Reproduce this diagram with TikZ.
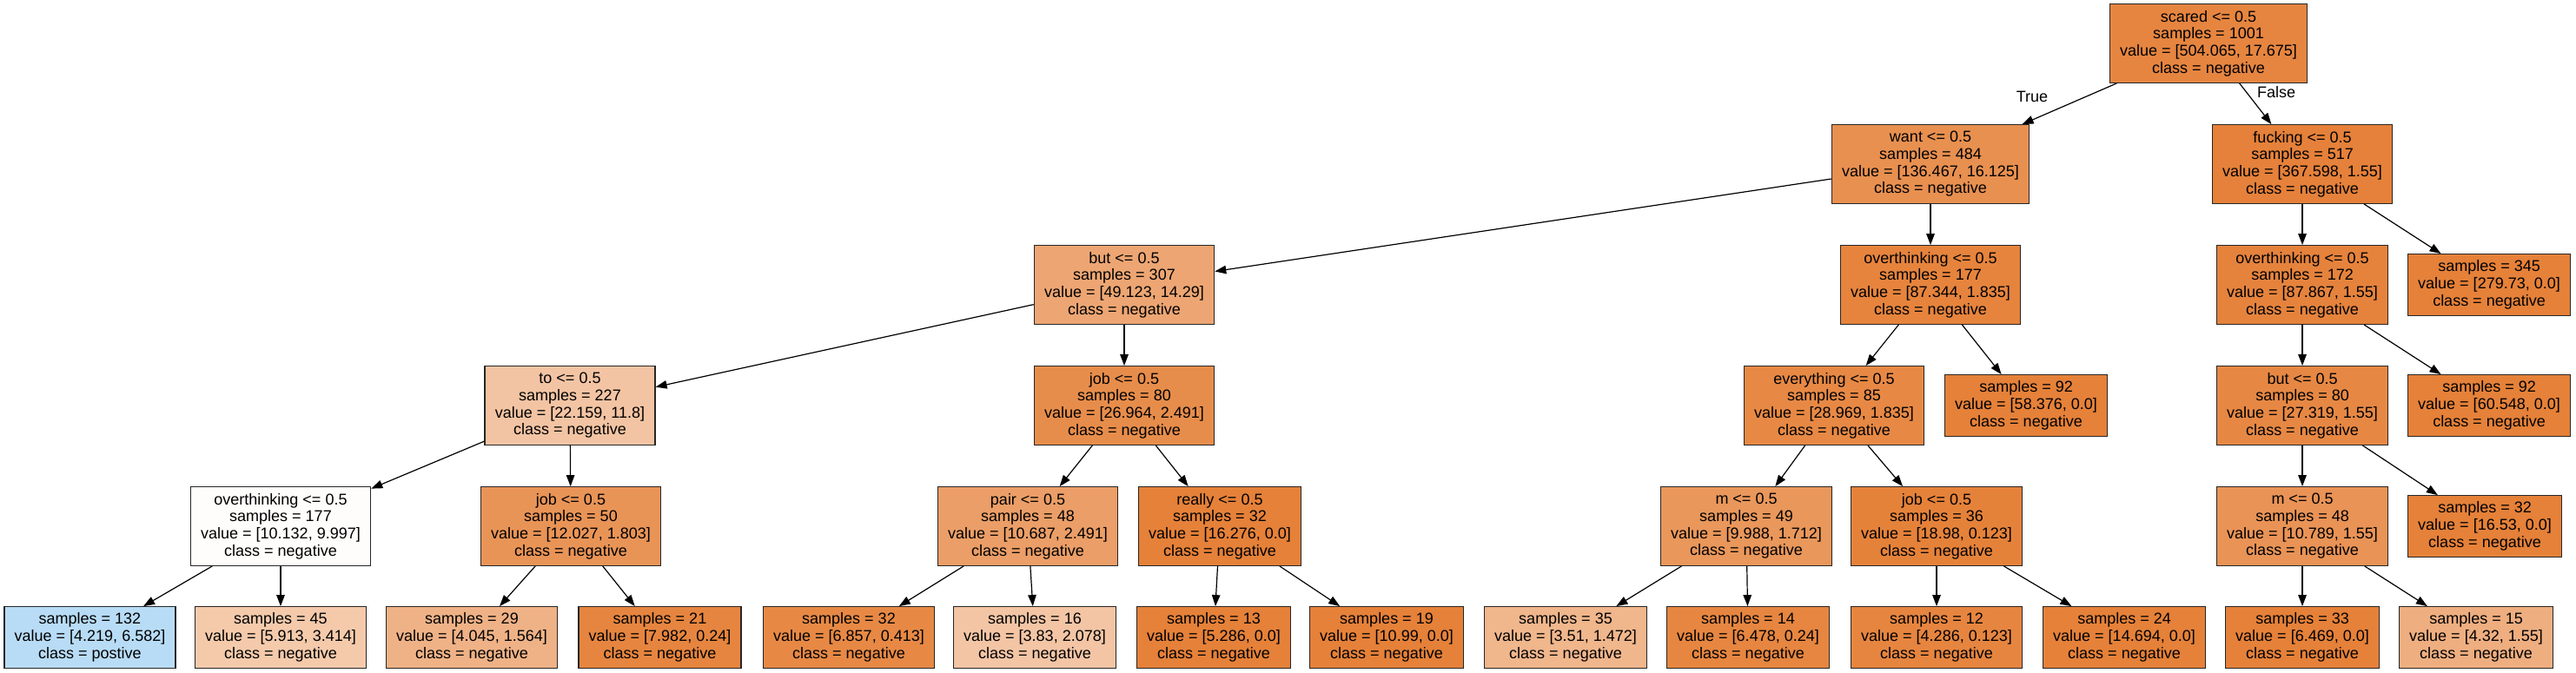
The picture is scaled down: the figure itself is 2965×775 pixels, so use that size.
\documentclass[tikz,border=0pt]{standalone}
\usepackage{fontspec}
\setmainfont{Liberation Sans}
\usetikzlibrary{arrows.meta}
\definecolor{neg}{RGB}{229,129,57}
\definecolor{pos}{RGB}{57,157,229}
\tikzset{
  box/.style={draw=black!85, line width=1.3pt, inner xsep=11.8pt, inner ysep=0pt, align=center, rectangle, font=\fontsize{18}{19.7}\selectfont},
  box4/.style={box, minimum height=90.5pt},
  box3/.style={box, minimum height=70.5pt},
  edge/.style={-{Triangle[length=13pt,width=9.5pt]}, line width=1.2pt, draw=black},
  elabel/.style={font=\fontsize{18}{19.7}\selectfont, inner sep=0pt}
}
\begin{document}
\begin{tikzpicture}[x=1pt,y=-1pt]
\useasboundingbox[fill=white] (0,0) rectangle (2965,775);
% rank 0
\node[box4, fill=neg!96.5] (scared) at (2542,50) {scared <= 0.5\\samples = 1001\\value = [504.065, 17.675]\\class = negative};
% rank 1
\node[box4, fill=neg!88.2] (want) at (2222,189) {want <= 0.5\\samples = 484\\value = [136.467, 16.125]\\class = negative};
\node[box4, fill=neg!99.6] (fucking) at (2650,189) {fucking <= 0.5\\samples = 517\\value = [367.598, 1.55]\\class = negative};
% rank 2
\node[box4, fill=neg!70.9] (butA) at (1294,328) {but <= 0.5\\samples = 307\\value = [49.123, 14.29]\\class = negative};
\node[box4, fill=neg!97.9] (ovB) at (2222,328) {overthinking <= 0.5\\samples = 177\\value = [87.344, 1.835]\\class = negative};
\node[box4, fill=neg!98.2] (ovC) at (2650,328) {overthinking <= 0.5\\samples = 172\\value = [87.867, 1.55]\\class = negative};
\node[box3, fill=neg] (l345) at (2865,328) {samples = 345\\value = [279.73, 0.0]\\class = negative};
% rank 3
\node[box4, fill=neg!46.7] (to) at (656,467) {to <= 0.5\\samples = 227\\value = [22.159, 11.8]\\class = negative};
\node[box4, fill=neg!90.8] (jobA) at (1294,467) {job <= 0.5\\samples = 80\\value = [26.964, 2.491]\\class = negative};
\node[box4, fill=neg!93.7] (every) at (2111,467) {everything <= 0.5\\samples = 85\\value = [28.969, 1.835]\\class = negative};
\node[box3, fill=neg] (l92a) at (2332,467) {samples = 92\\value = [58.376, 0.0]\\class = negative};
\node[box4, fill=neg!94.3] (butB) at (2650,467) {but <= 0.5\\samples = 80\\value = [27.319, 1.55]\\class = negative};
\node[box3, fill=neg] (l92b) at (2865,467) {samples = 92\\value = [60.548, 0.0]\\class = negative};
% rank 4
\node[box4, fill=neg!1.3] (ovA) at (323,606) {overthinking <= 0.5\\samples = 177\\value = [10.132, 9.997]\\class = negative};
\node[box4, fill=neg!85.0] (jobB) at (657,606) {job <= 0.5\\samples = 50\\value = [12.027, 1.803]\\class = negative};
\node[box4, fill=neg!76.7] (pair) at (1183,606) {pair <= 0.5\\samples = 48\\value = [10.687, 2.491]\\class = negative};
\node[box4, fill=neg] (really) at (1404,606) {really <= 0.5\\samples = 32\\value = [16.276, 0.0]\\class = negative};
\node[box4, fill=neg!82.9] (mA) at (2010,606) {m <= 0.5\\samples = 49\\value = [9.988, 1.712]\\class = negative};
\node[box4, fill=neg!99.4] (jobC) at (2229,606) {job <= 0.5\\samples = 36\\value = [18.98, 0.123]\\class = negative};
\node[box4, fill=neg!85.6] (mB) at (2650,606) {m <= 0.5\\samples = 48\\value = [10.789, 1.55]\\class = negative};
\node[box3, fill=neg] (l32b) at (2860,606) {samples = 32\\value = [16.53, 0.0]\\class = negative};
% rank 5
\node[box3, fill=pos!35.9] (l132) at (103.5,734) {samples = 132\\value = [4.219, 6.582]\\class = postive};
\node[box3, fill=neg!42.3] (l45) at (323,734) {samples = 45\\value = [5.913, 3.414]\\class = negative};
\node[box3, fill=neg!61.3] (l29) at (543,734) {samples = 29\\value = [4.045, 1.564]\\class = negative};
\node[box3, fill=neg!97.0] (l21) at (759.5,734) {samples = 21\\value = [7.982, 0.24]\\class = negative};
\node[box3, fill=neg!94.0] (l32a) at (977,734) {samples = 32\\value = [6.857, 0.413]\\class = negative};
\node[box3, fill=neg!45.7] (l16) at (1191,734) {samples = 16\\value = [3.83, 2.078]\\class = negative};
\node[box3, fill=neg] (l13) at (1397,734) {samples = 13\\value = [5.286, 0.0]\\class = negative};
\node[box3, fill=neg] (l19) at (1596,734) {samples = 19\\value = [10.99, 0.0]\\class = negative};
\node[box3, fill=neg!58.1] (l35) at (1802,734) {samples = 35\\value = [3.51, 1.472]\\class = negative};
\node[box3, fill=neg!96.3] (l14) at (2012,734) {samples = 14\\value = [6.478, 0.24]\\class = negative};
\node[box3, fill=neg!97.1] (l12) at (2229,734) {samples = 12\\value = [4.286, 0.123]\\class = negative};
\node[box3, fill=neg] (l24) at (2445,734) {samples = 24\\value = [14.694, 0.0]\\class = negative};
\node[box3, fill=neg] (l33) at (2650,734) {samples = 33\\value = [6.469, 0.0]\\class = negative};
\node[box3, fill=neg!64.1] (l15) at (2850,734) {samples = 15\\value = [4.32, 1.55]\\class = negative};
% edges
\draw[edge] (scared) -- (want);
\draw[edge] (scared) -- (fucking);
\draw[edge] (want) -- (butA);
\draw[edge] (want) -- (ovB);
\draw[edge] (fucking) -- (ovC);
\draw[edge] (fucking) -- (l345);
\draw[edge] (butA) -- (to);
\draw[edge] (butA) -- (jobA);
\draw[edge] (ovB) -- (every);
\draw[edge] (ovB) -- (l92a);
\draw[edge] (ovC) -- (butB);
\draw[edge] (ovC) -- (l92b);
\draw[edge] (to) -- (ovA);
\draw[edge] (to) -- (jobB);
\draw[edge] (jobA) -- (pair);
\draw[edge] (jobA) -- (really);
\draw[edge] (every) -- (mA);
\draw[edge] (every) -- (jobC);
\draw[edge] (butB) -- (mB);
\draw[edge] (butB) -- (l32b);
\draw[edge] (ovA) -- (l132);
\draw[edge] (ovA) -- (l45);
\draw[edge] (jobB) -- (l29);
\draw[edge] (jobB) -- (l21);
\draw[edge] (pair) -- (l32a);
\draw[edge] (pair) -- (l16);
\draw[edge] (really) -- (l13);
\draw[edge] (really) -- (l19);
\draw[edge] (mA) -- (l35);
\draw[edge] (mA) -- (l14);
\draw[edge] (jobC) -- (l12);
\draw[edge] (jobC) -- (l24);
\draw[edge] (mB) -- (l33);
\draw[edge] (mB) -- (l15);
% edge labels
\node[elabel] (lt) at (2339,111) {True};
\node[elabel] (lf) at (2620,106) {False};
\end{tikzpicture}
\end{document}
